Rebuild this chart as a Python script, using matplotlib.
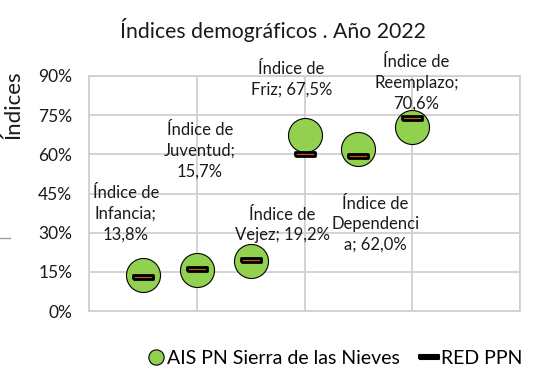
import matplotlib.pyplot as plt
from matplotlib.lines import Line2D
from matplotlib.ticker import PercentFormatter

plt.rcParams['font.family'] = ['Lato', 'DejaVu Sans']

# Índices demográficos 2022
positions = [1, 2, 3, 4, 5, 6]
names = ["Índice de\nInfancia", "Índice de\nJuventud", "Índice de\nVejez",
         "Índice de\nFriz", "Índice de\nDependenci\na", "Índice de\nReemplazo"]
separators = ["\n", "\n", " ", " ", " ", "\n"]
ais_values = [13.8, 15.7, 19.2, 67.5, 62.0, 70.6]
red_values = [13.0, 16.1, 19.4, 60.1, 59.4, 73.9]
y_ticks = [0, 15, 30, 45, 60, 75, 90]

# label offsets (pixels) from each point
label_offsets = [(-17, 61), (3, 119), (32, 36), (-13, 55), (17, -75), (4, 44)]

green = '#92D050'
orange = '#C55A11'
dash = [(-1, -0.2), (1, -0.2), (1, 0.2), (-1, 0.2), (-1, -0.2)]

fig = plt.figure(figsize=(5.37, 3.69), dpi=100)
ax = fig.add_axes([89 / 537, 1 - 311 / 369, 431 / 537, 235 / 369])

ax.plot(positions, ais_values, 'o', ms=24.5, mfc=green, mec='black', mew=0.8,
        zorder=3)
ax.plot(positions, red_values, ls='', marker=dash, ms=15, mfc=orange,
        mec='black', mew=2, zorder=4)

for x, v, name, sep, off in zip(positions, ais_values, names, separators,
                                label_offsets):
    label = f"{name};{sep}{v:.1f}%".replace('.', ',')
    ax.annotate(label, (x, v), xytext=off, textcoords='offset pixels',
                ha='center', va='center', fontsize=12, linespacing=1.35,
                color='#1a1a1a', zorder=5)

ax.set_xlim(0, 8)
ax.set_ylim(0, 90)
ax.set_xticks([0, 2, 4, 6, 8])
ax.set_xticklabels([])
ax.set_yticks(y_ticks)
ax.yaxis.set_major_formatter(PercentFormatter(decimals=0))
ax.tick_params(length=0, labelsize=12.5, pad=12, colors='#1a1a1a')
ax.grid(True, color='#D0D0D0', lw=1.3)
ax.set_axisbelow(True)
for s in ax.spines.values():
    s.set_color('#D0D0D0')
    s.set_linewidth(1.3)

fig.text(273 / 537, 1 - 30 / 369, "Índices demográficos . Año 2022",
         ha='center', va='center', fontsize=15.3, color='#1a1a1a')
fig.text(13 / 537, 1 - 105 / 369, "Índices", rotation=90, ha='center',
         va='center', fontsize=16, color='#1a1a1a')

# small border fragment on the left
fig.add_artist(Line2D([0, 10 / 537], [1 - 238 / 369] * 2, color='#A0A0A0',
                      lw=1))

handles = [
    Line2D([], [], ls='', marker='o', ms=11, mfc=green, mec='black', mew=0.8),
    Line2D([], [], ls='', marker=dash, ms=14, mfc='black', mec='black',
           mew=1.5),
]
fig.legend(handles, ["AIS PN Sierra de las Nieves", "RED PPN"],
           loc='center left', bbox_to_anchor=(140 / 537, 1 - 358 / 369),
           ncol=2, frameon=False, fontsize=14, handlelength=0.6,
           handletextpad=0.3, columnspacing=1.2, borderpad=0)

fig.savefig('out.png', dpi=100)
